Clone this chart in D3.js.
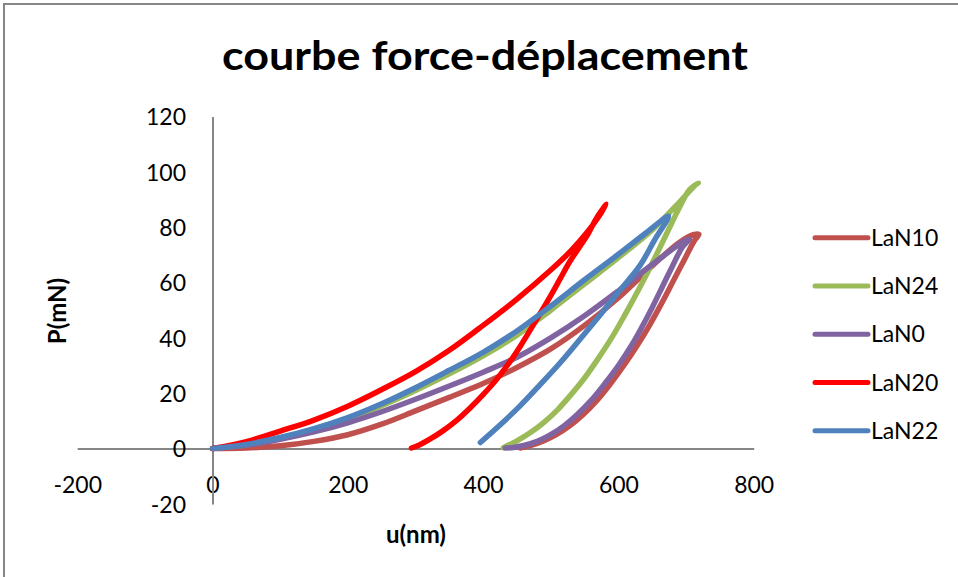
<!DOCTYPE html>
<html><head><meta charset="utf-8">
<script src="https://cdn.jsdelivr.net/npm/d3@7/dist/d3.min.js"></script>
<style>body{margin:0;background:#fff}svg{display:block}</style>
</head><body><svg id="c" width="958" height="577"></svg>
<script>
const title = "courbe force-déplacement";
const xLabel = "u(nm)", yLabel = "P(mN)";
const xTicks = [-200, 0, 200, 400, 600, 800];
const yTicks = [-20, 0, 20, 40, 60, 80, 100, 120];
const seriesNames = ["LaN10", "LaN24", "LaN0", "LaN20", "LaN22"];
const seriesColors = ["#C0504D", "#9BBB59", "#8064A2", "#FF0000", "#4F81BD"];

// [u (nm), P (mN)] : loading then unloading
const lan10Load = [[0,0],[50,0.2],[100,1],[150,2.6],[200,5],[250,8.8],[300,13.6],[350,18.5],[400,23.5],[450,29.3],[500,36],[550,44.5],[600,54.5],[650,66],[690,74.5],[712,77.4],[719,77.4]];
const lan10Unload = [[719,77.4],[712,75],[697,68],[682,61],[665,53],[647,45],[628,37.3],[608,30],[588,23.3],[568,17.3],[548,12.3],[528,8.2],[508,5],[490,2.8],[472,1.2],[455,0.2]];
const lan24Load = [[0,0],[50,1.4],[100,3.8],[150,6.9],[200,10.7],[250,15.5],[300,21],[350,27],[400,33.5],[450,41],[500,50],[550,59.5],[600,69],[650,79],[690,89],[712,94.8],[718,96]];
const lan24Unload = [[718,96],[705,93.5],[690,87],[670,77],[650,67],[630,57.5],[610,48.5],[590,40],[570,32.5],[550,25.5],[530,19.5],[510,14],[490,9.5],[470,5.8],[450,2.8],[430,0.3]];
const lan0Load = [[0,0],[50,1.2],[100,3.3],[150,6],[200,9.3],[250,13.3],[300,17.8],[350,22.6],[400,27.6],[450,33],[500,40],[550,48],[600,57],[650,66.5],[700,75.4],[705,75.6]];
const lan0Unload = [[705,75.6],[695,73],[680,66],[665,58.5],[650,51],[635,44],[620,37.5],[600,30],[580,23.5],[560,17.5],[540,12.5],[520,8.3],[500,5],[480,2.6],[460,1.1],[445,0.4],[433,0.2]];
const lan20Load = [[0,0],[50,2.5],[100,6.3],[150,10.3],[200,15.3],[250,21.3],[300,27.8],[350,35.5],[400,44.5],[450,54],[500,64.5],[530,71.5],[555,78.5],[570,83.5],[582,88.3]];
const lan20Unload = [[582,88.3],[576,86.3],[567,83],[555,77.5],[543,73],[528,67.5],[514,61.4],[500,55.3],[485,49.1],[470,43],[455,37],[440,31.5],[420,25],[400,19.5],[380,14.5],[360,10],[340,6.3],[320,3.2],[305,1.2],[294,0.2]];
const lan22Load = [[0,0],[50,1.5],[100,4],[150,7.2],[200,11.2],[250,16.2],[300,22],[350,28.3],[400,34.8],[450,42.5],[500,51.5],[550,61],[600,70.2],[640,77.8],[674,84]];
const lan22Unload = [[674,84],[654,75.6],[632,66.2],[602,57.1],[573,48.3],[543,39.4],[514,31],[484,23],[455,15.5],[425,8.5],[396,2.2]];

const seriesLoad = [lan10Load, lan24Load, lan0Load, lan20Load, lan22Load];
const seriesUnload = [lan10Unload, lan24Unload, lan0Unload, lan20Unload, lan22Unload];

const svg = d3.select("#c");
const font = "Lato, 'Open Sans', sans-serif";
const axisColor = "#868686";

svg.append("rect").attr("x",4).attr("y",4).attr("width",1200).attr("height",1200)
  .attr("fill","#fff").attr("stroke",axisColor).attr("stroke-width",2);

const x = d3.scaleLinear().domain([-200,800]).range([77.2,753.7]);
const y = d3.scaleLinear().domain([-20,120]).range([503.9,116.5]);

svg.append("text").attr("x",485).attr("y",70).attr("text-anchor","middle")
  .attr("font-family",font).attr("font-weight","bold").attr("font-size",40)
  .attr("textLength",526).attr("lengthAdjust","spacingAndGlyphs").text(title);

const fmt = d => String(d);
const xAxis = d3.axisBottom(x).tickValues(xTicks).tickFormat(fmt).tickSize(0).tickPadding(0);
const gx = svg.append("g").attr("transform",`translate(0,${y(0)})`).call(xAxis);
gx.select(".domain").attr("stroke",axisColor).attr("stroke-width",2);
gx.selectAll(".tick text").attr("y",44).attr("dy",0).attr("font-family",font).attr("font-size",23).attr("fill","#000");

const yAxis = d3.axisLeft(y).tickValues(yTicks).tickFormat(fmt).tickSize(0).tickPadding(0);
const gy = svg.append("g").attr("transform",`translate(${x(0)},0)`).call(yAxis);
gy.select(".domain").attr("stroke",axisColor).attr("stroke-width",2);
gy.selectAll(".tick text").attr("x",-(x(0)-186)).attr("dy","0.36em")
  .attr("font-family",font).attr("font-size",23).attr("fill","#000");

svg.append("text").attr("x",416).attr("y",543).attr("text-anchor","middle")
  .attr("font-family",font).attr("font-weight","bold").attr("font-size",24).text(xLabel);
svg.append("text").attr("transform","translate(66,311) rotate(-90)").attr("text-anchor","middle")
  .attr("font-family",font).attr("font-weight","bold").attr("font-size",24).text(yLabel);

const line = d3.line().x(d=>x(d[0])).y(d=>y(d[1])).curve(d3.curveCatmullRom.alpha(0.5));
seriesNames.forEach((n,i)=>{
  const pts = seriesLoad[i].concat(seriesUnload[i].slice(1));
  svg.append("path").attr("d",line(pts)).attr("fill","none")
    .attr("stroke",seriesColors[i]).attr("stroke-width",5.5)
    .attr("stroke-linecap","round").attr("stroke-linejoin","round");
});

const legY = d3.scalePoint().domain(seriesNames).range([237.7,430.7]);
seriesNames.forEach((n,i)=>{
  svg.append("line").attr("x1",815).attr("x2",868).attr("y1",legY(n)).attr("y2",legY(n))
    .attr("stroke",seriesColors[i]).attr("stroke-width",5).attr("stroke-linecap","round");
  svg.append("text").attr("x",871).attr("y",legY(n)).attr("dy","0.36em")
    .attr("font-family",font).attr("font-size",23).text(n);
});
</script></body></html>
